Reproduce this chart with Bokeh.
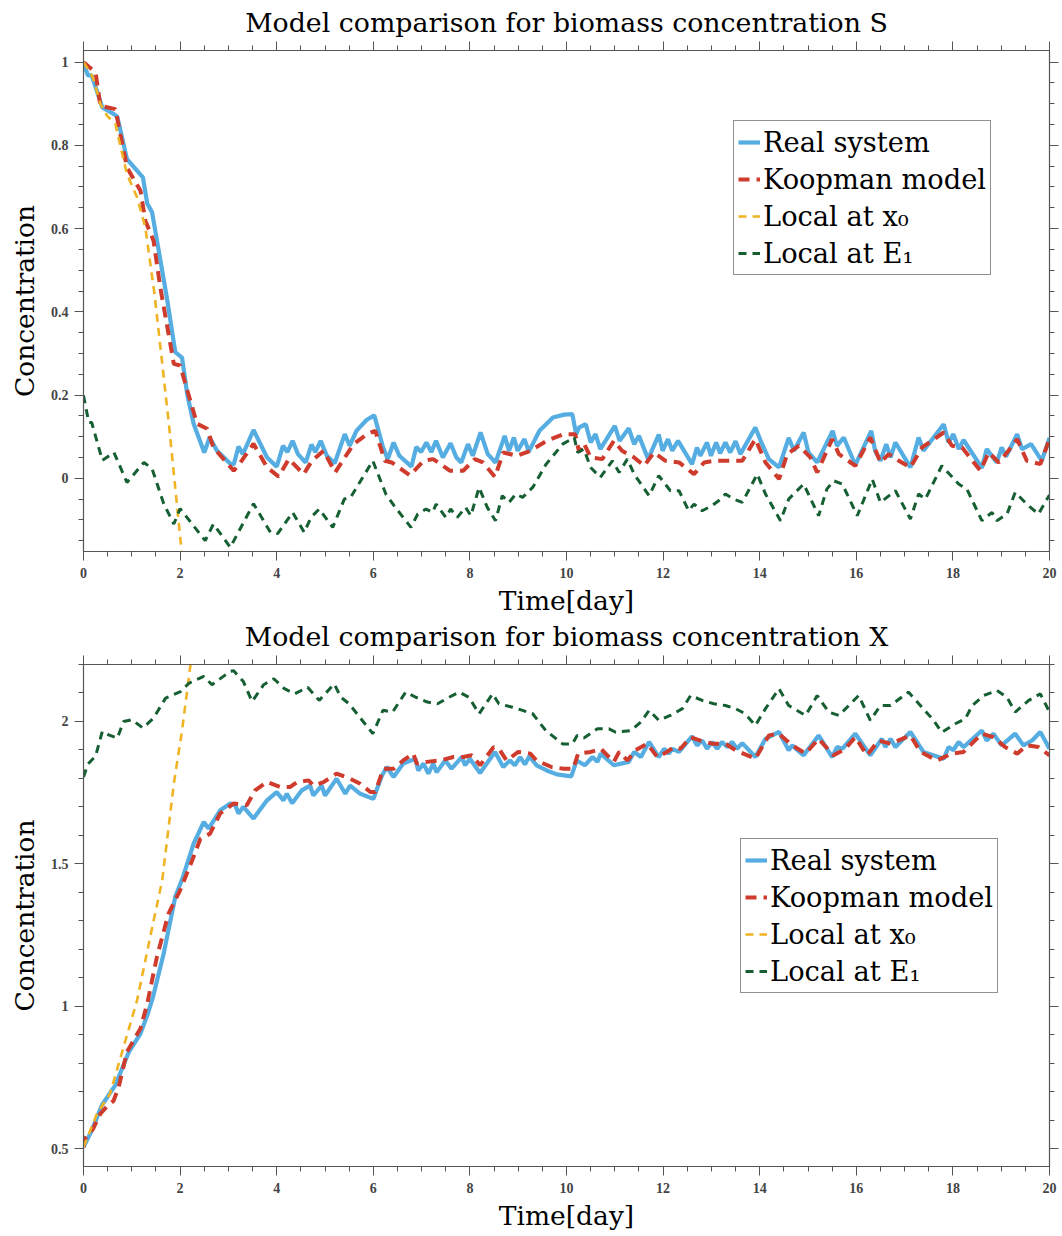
from bokeh.plotting import figure
from bokeh.models import (Range1d, LinearAxis, Legend, LegendItem, SingleIntervalTicker,
                          CustomLabelingPolicy)
from bokeh.layouts import column
from bokeh.embed import file_html
from bokeh.resources import INLINE

# ---------------- data: substrate S ----------------
s_real_t = [0, 0.09, 0.17, 0.39, 0.63, 0.70, 0.90, 1.23, 1.32, 1.42, 1.73, 1.90, 2.04, 2.15, 2.28, 2.50, 2.61, 2.76, 3.04, 3.11, 3.21, 3.30, 3.52, 3.80, 4.00, 4.13, 4.22, 4.33, 4.44, 4.60, 4.72, 4.80, 4.91, 5.04, 5.20, 5.41, 5.51, 5.65, 5.86, 6.02, 6.20, 6.30, 6.42, 6.54, 6.79, 6.89, 6.99, 7.10, 7.20, 7.30, 7.44, 7.60, 7.72, 7.82, 7.96, 8.06, 8.22, 8.37, 8.53, 8.72, 8.81, 8.91, 8.99, 9.13, 9.22, 9.44, 9.72, 9.95, 10.12, 10.20, 10.26, 10.40, 10.50, 10.60, 10.70, 11.00, 11.10, 11.29, 11.40, 11.50, 11.69, 11.91, 11.99, 12.10, 12.19, 12.31, 12.60, 12.70, 12.77, 12.91, 12.99, 13.10, 13.18, 13.29, 13.39, 13.50, 13.60, 13.91, 14.02, 14.19, 14.40, 14.60, 14.71, 14.91, 15.01, 15.19, 15.51, 15.60, 15.74, 15.98, 16.31, 16.39, 16.50, 16.62, 16.71, 16.81, 17.12, 17.29, 17.39, 17.81, 17.91, 18.01, 18.12, 18.22, 18.60, 18.70, 18.91, 19.01, 19.10, 19.33, 19.43, 19.62, 19.84, 20.0]
s_real_y = [1.0, 0.968, 0.968, 0.891, 0.875, 0.869, 0.767, 0.723, 0.660, 0.639, 0.431, 0.303, 0.29, 0.20, 0.131, 0.062, 0.098, 0.067, 0.035, 0.033, 0.076, 0.058, 0.116, 0.05, 0.028, 0.078, 0.063, 0.090, 0.058, 0.038, 0.081, 0.063, 0.090, 0.054, 0.036, 0.106, 0.078, 0.114, 0.140, 0.151, 0.075, 0.046, 0.086, 0.054, 0.028, 0.075, 0.063, 0.086, 0.063, 0.090, 0.050, 0.084, 0.050, 0.038, 0.082, 0.054, 0.110, 0.058, 0.038, 0.102, 0.066, 0.098, 0.066, 0.094, 0.064, 0.114, 0.146, 0.153, 0.154, 0.106, 0.122, 0.130, 0.086, 0.106, 0.070, 0.126, 0.090, 0.120, 0.082, 0.102, 0.046, 0.105, 0.066, 0.094, 0.066, 0.090, 0.034, 0.074, 0.054, 0.086, 0.054, 0.086, 0.060, 0.086, 0.062, 0.089, 0.058, 0.122, 0.090, 0.046, 0.026, 0.097, 0.066, 0.110, 0.062, 0.038, 0.114, 0.078, 0.098, 0.032, 0.114, 0.066, 0.042, 0.082, 0.050, 0.086, 0.026, 0.098, 0.066, 0.130, 0.086, 0.106, 0.070, 0.092, 0.025, 0.070, 0.038, 0.074, 0.052, 0.106, 0.070, 0.082, 0.042, 0.097]

s_koop_t = [0, 0.25, 0.35, 0.66, 0.90, 1.18, 1.28, 1.45, 1.59, 1.87, 2.0, 2.35, 2.56, 2.69, 3.11, 3.25, 3.52, 3.80, 4.04, 4.25, 4.56, 4.73, 4.97, 5.21, 5.59, 5.87, 6.04, 6.24, 6.38, 6.76, 7.04, 7.24, 7.59, 7.86, 8.10, 8.27, 8.52, 8.69, 8.97, 9.25, 9.59, 9.94, 10.18, 10.26, 10.36, 10.50, 10.74, 10.98, 11.15, 11.40, 11.61, 11.81, 12.05, 12.33, 12.64, 12.85, 13.05, 13.29, 13.64, 13.91, 14.12, 14.40, 14.57, 14.81, 15.05, 15.19, 15.50, 15.64, 15.98, 16.29, 16.50, 16.67, 16.88, 17.12, 17.36, 17.81, 17.98, 18.19, 18.57, 18.74, 18.95, 19.15, 19.33, 19.53, 19.81, 20.0]
s_koop_y = [1.0, 0.975, 0.895, 0.887, 0.747, 0.691, 0.619, 0.571, 0.459, 0.275, 0.271, 0.131, 0.119, 0.074, 0.018, 0.038, 0.083, 0.026, 0.004, 0.046, 0.010, 0.042, 0.066, 0.014, 0.082, 0.106, 0.114, 0.042, 0.038, 0.007, 0.042, 0.046, 0.018, 0.018, 0.046, 0.038, 0.003, 0.062, 0.054, 0.066, 0.090, 0.106, 0.106, 0.064, 0.084, 0.050, 0.046, 0.090, 0.066, 0.050, 0.030, 0.062, 0.042, 0.038, 0.010, 0.038, 0.042, 0.042, 0.042, 0.094, 0.038, -0.002, 0.058, 0.078, 0.050, 0.014, 0.094, 0.058, 0.030, 0.098, 0.038, 0.058, 0.042, 0.026, 0.074, 0.110, 0.078, 0.074, 0.018, 0.062, 0.038, 0.066, 0.094, 0.042, 0.034, 0.094]

s_x0_t = [0, 0.19, 0.35, 0.49, 0.66, 0.90, 1.11, 1.28, 1.47, 1.76, 2.03, 2.12]
s_x0_y = [1.0, 0.965, 0.90, 0.871, 0.851, 0.731, 0.675, 0.603, 0.443, 0.139, -0.174, -0.28]

s_e1_t = [0, 0.11, 0.17, 0.39, 0.63, 0.90, 1.25, 1.42, 1.66, 1.87, 2.0, 2.52, 2.69, 3.04, 3.52, 3.87, 4.02, 4.16, 4.33, 4.57, 4.71, 4.88, 5.16, 5.40, 5.53, 5.99, 6.26, 6.43, 6.78, 6.92, 7.09, 7.23, 7.30, 7.50, 7.60, 7.74, 7.91, 8.02, 8.19, 8.36, 8.53, 8.67, 8.81, 8.95, 9.09, 9.30, 9.58, 9.92, 10.16, 10.23, 10.36, 10.50, 10.70, 10.95, 11.09, 11.26, 11.40, 11.71, 11.91, 12.15, 12.33, 12.53, 12.64, 12.81, 13.01, 13.15, 13.29, 13.46, 13.64, 13.95, 14.12, 14.43, 14.60, 14.91, 15.22, 15.39, 15.53, 15.71, 16.02, 16.33, 16.50, 16.81, 17.12, 17.29, 17.43, 17.77, 18.12, 18.29, 18.60, 18.81, 18.91, 19.12, 19.29, 19.53, 19.77, 20.0]
s_e1_y = [0.199, 0.134, 0.134, 0.043, 0.062, -0.010, 0.038, 0.023, -0.061, -0.110, -0.073, -0.150, -0.110, -0.166, -0.061, -0.130, -0.133, -0.110, -0.082, -0.130, -0.094, -0.074, -0.118, -0.050, -0.046, 0.042, -0.038, -0.066, -0.118, -0.086, -0.074, -0.082, -0.062, -0.094, -0.074, -0.094, -0.070, -0.090, -0.022, -0.070, -0.102, -0.042, -0.058, -0.038, -0.046, -0.022, 0.034, 0.082, 0.098, 0.062, 0.070, 0.026, 0.002, 0.042, 0.014, 0.046, 0.010, -0.042, 0.006, -0.030, -0.030, -0.078, -0.062, -0.078, -0.066, -0.054, -0.038, -0.050, -0.058, 0.010, -0.038, -0.102, -0.050, -0.014, -0.090, -0.026, -0.006, -0.014, -0.090, -0.002, -0.058, -0.030, -0.098, -0.038, -0.050, 0.030, -0.014, -0.026, -0.102, -0.082, -0.102, -0.086, -0.034, -0.062, -0.086, -0.040]

# ---------------- data: biomass X ----------------
x_real_t = [0, 0.17, 0.38, 0.66, 0.94, 1.18, 1.32, 1.44, 1.66, 1.90, 2.06, 2.28, 2.49, 2.59, 2.83, 3.04, 3.14, 3.21, 3.31, 3.52, 3.80, 4.00, 4.14, 4.21, 4.32, 4.52, 4.69, 4.76, 4.93, 5.0, 5.24, 5.42, 5.52, 5.73, 6.0, 6.18, 6.28, 6.42, 6.62, 6.87, 6.93, 7.04, 7.14, 7.24, 7.31, 7.49, 7.62, 7.83, 7.90, 8.00, 8.21, 8.52, 8.69, 8.83, 8.93, 9.04, 9.14, 9.23, 9.38, 9.59, 9.80, 10.1, 10.21, 10.38, 10.54, 10.64, 10.71, 10.98, 11.29, 11.40, 11.54, 11.71, 11.91, 12.02, 12.12, 12.19, 12.33, 12.60, 12.70, 12.81, 12.91, 13.01, 13.12, 13.22, 13.33, 13.43, 13.53, 13.64, 13.91, 14.12, 14.40, 14.60, 14.67, 14.91, 15.22, 15.50, 15.60, 15.71, 15.98, 16.29, 16.53, 16.60, 16.71, 16.81, 17.12, 17.39, 17.81, 17.91, 18.01, 18.12, 18.22, 18.60, 18.70, 18.84, 19.01, 19.29, 19.46, 19.64, 19.81, 20.0]
x_real_y = [0.505, 0.563, 0.652, 0.723, 0.840, 0.904, 0.968, 1.033, 1.185, 1.384, 1.454, 1.571, 1.647, 1.624, 1.688, 1.712, 1.706, 1.677, 1.700, 1.659, 1.723, 1.752, 1.723, 1.746, 1.713, 1.758, 1.775, 1.740, 1.775, 1.740, 1.799, 1.746, 1.775, 1.746, 1.728, 1.810, 1.840, 1.805, 1.852, 1.869, 1.828, 1.852, 1.817, 1.852, 1.822, 1.863, 1.834, 1.875, 1.846, 1.869, 1.819, 1.893, 1.840, 1.863, 1.846, 1.875, 1.849, 1.878, 1.846, 1.828, 1.814, 1.807, 1.863, 1.846, 1.875, 1.858, 1.887, 1.846, 1.858, 1.893, 1.875, 1.928, 1.875, 1.904, 1.887, 1.904, 1.893, 1.948, 1.916, 1.933, 1.904, 1.928, 1.904, 1.928, 1.910, 1.928, 1.904, 1.924, 1.875, 1.939, 1.963, 1.899, 1.916, 1.881, 1.951, 1.875, 1.910, 1.904, 1.957, 1.881, 1.939, 1.910, 1.939, 1.910, 1.963, 1.893, 1.869, 1.910, 1.899, 1.928, 1.910, 1.968, 1.933, 1.957, 1.916, 1.957, 1.916, 1.933, 1.963, 1.904]

x_koop_t = [0, 0.03, 0.2, 0.35, 0.49, 0.62, 0.73, 0.9, 1.18, 1.32, 1.52, 1.76, 2.0, 2.25, 2.42, 2.62, 2.83, 3.11, 3.38, 3.56, 3.80, 4.07, 4.28, 4.42, 4.66, 4.76, 4.97, 5.24, 5.52, 5.73, 5.94, 6.04, 6.21, 6.42, 6.62, 6.83, 6.90, 7.11, 7.38, 7.66, 7.86, 8.04, 8.21, 8.49, 8.62, 8.76, 9.00, 9.25, 9.38, 9.69, 9.94, 10.14, 10.24, 10.50, 10.71, 10.98, 11.09, 11.26, 11.43, 11.67, 11.88, 12.08, 12.22, 12.36, 12.57, 12.77, 13.01, 13.29, 13.50, 13.91, 14.19, 14.40, 14.67, 14.95, 15.22, 15.53, 15.77, 15.98, 16.22, 16.46, 16.71, 17.12, 17.33, 17.67, 17.98, 18.22, 18.60, 18.84, 19.08, 19.33, 19.53, 19.77, 20.0]
x_koop_y = [0.505, 0.535, 0.570, 0.623, 0.648, 0.667, 0.717, 0.840, 0.922, 1.009, 1.173, 1.325, 1.407, 1.512, 1.588, 1.606, 1.677, 1.712, 1.706, 1.759, 1.788, 1.770, 1.770, 1.787, 1.793, 1.775, 1.787, 1.817, 1.799, 1.781, 1.752, 1.752, 1.834, 1.834, 1.863, 1.887, 1.852, 1.858, 1.863, 1.875, 1.875, 1.881, 1.846, 1.910, 1.899, 1.863, 1.893, 1.887, 1.863, 1.840, 1.834, 1.834, 1.887, 1.893, 1.904, 1.858, 1.893, 1.863, 1.899, 1.922, 1.875, 1.893, 1.910, 1.904, 1.945, 1.933, 1.922, 1.922, 1.899, 1.869, 1.951, 1.957, 1.916, 1.887, 1.939, 1.881, 1.904, 1.945, 1.881, 1.933, 1.922, 1.951, 1.893, 1.863, 1.887, 1.893, 1.957, 1.945, 1.910, 1.887, 1.916, 1.910, 1.881]

x_x0_t = [0, 0.28, 0.55, 0.83, 1.11, 1.38, 1.63, 1.87, 2.04, 2.20, 2.28]
x_x0_y = [0.505, 0.623, 0.693, 0.857, 1.021, 1.243, 1.442, 1.781, 1.968, 2.179, 2.29]

x_e1_t = [0, 0.09, 0.25, 0.39, 0.52, 0.70, 0.83, 1.0, 1.23, 1.45, 1.70, 2.01, 2.18, 2.49, 2.66, 3.04, 3.11, 3.31, 3.49, 3.73, 3.94, 4.16, 4.37, 4.64, 4.88, 5.19, 5.33, 5.50, 5.99, 6.20, 6.40, 6.67, 6.88, 7.12, 7.33, 7.57, 7.78, 7.98, 8.19, 8.47, 8.60, 8.88, 9.09, 9.30, 9.57, 9.92, 10.12, 10.22, 10.36, 10.64, 10.88, 11.02, 11.33, 11.54, 11.71, 11.91, 12.15, 12.40, 12.57, 12.81, 13.05, 13.29, 13.50, 13.70, 13.91, 14.12, 14.40, 14.60, 14.95, 15.19, 15.43, 15.64, 16.05, 16.29, 16.50, 16.71, 17.08, 17.36, 17.60, 17.77, 18.05, 18.26, 18.40, 18.64, 18.91, 19.12, 19.29, 19.57, 19.81, 20.0]
x_e1_y = [1.805, 1.85, 1.878, 1.965, 1.953, 1.941, 2.0, 2.006, 1.977, 2.012, 2.082, 2.105, 2.134, 2.158, 2.129, 2.176, 2.178, 2.140, 2.070, 2.129, 2.150, 2.115, 2.097, 2.120, 2.074, 2.132, 2.085, 2.062, 1.957, 2.039, 2.033, 2.103, 2.085, 2.068, 2.062, 2.085, 2.103, 2.085, 2.027, 2.097, 2.062, 2.050, 2.039, 2.027, 1.968, 1.921, 1.921, 1.951, 1.942, 1.974, 1.974, 1.962, 1.968, 1.998, 2.039, 2.004, 2.021, 2.045, 2.091, 2.074, 2.062, 2.056, 2.045, 2.027, 1.986, 2.045, 2.115, 2.056, 2.021, 2.091, 2.033, 2.021, 2.091, 2.004, 2.056, 2.056, 2.103, 2.050, 2.004, 1.962, 1.992, 2.010, 2.056, 2.091, 2.109, 2.085, 2.033, 2.074, 2.097, 2.033]

# axis ranges / tick labels
x_lim = (0, 20)
s_lim = (-0.176, 1.028)
x_conc_lim = (0.437, 2.2)
s_tick_labels = {0: "0", 1: "1"}
x_tick_labels = {1: "1", 2: "2"}
legend_labels = ["Real system", "Koopman model", "Local at x\u2080", "Local at E\u2081"]

C_REAL = "#55ade2"
C_KOOP = "#cf3b2c"
C_X0 = "#f0b323"
C_E1 = "#155f33"
AX = "#555555"
TICKFONT = "Liberation Serif"
TEXTFONT = "DejaVu Serif"

NO_LABELS = "for (let i = 0; i < indices.size; i++) { indices.unset(i) }\nreturn indices"


def style_axis(ax, show_labels=True, standoff=6):
    ax.axis_line_color = AX
    ax.axis_line_width = 1.2
    ax.major_tick_line_color = AX
    ax.minor_tick_line_color = AX
    ax.major_tick_out = 9
    ax.major_tick_in = 0
    ax.minor_tick_out = 5
    ax.minor_tick_in = 0
    ax.major_label_text_font = TICKFONT
    ax.major_label_text_font_style = "bold"
    ax.major_label_text_color = "#444444"
    if show_labels:
        ax.major_label_text_font_size = "14px"
        ax.major_label_standoff = standoff
    else:
        ax.major_label_text_font_size = "1px"
        ax.major_label_standoff = 0
        ax.major_label_policy = CustomLabelingPolicy(code=NO_LABELS)


def make_fig(title, ylim, yint, ynminor, overrides, data, leg_loc, top_border, bottom_border):
    p = figure(width=1062, height=618, output_backend="svg", toolbar_location=None,
               x_range=Range1d(*x_lim), y_range=Range1d(*ylim),
               min_border_left=83, min_border_right=12,
               min_border_top=top_border, min_border_bottom=bottom_border)
    p.grid.visible = False
    p.outline_line_color = AX
    p.background_fill_color = "white"
    p.title.text = title
    p.title.align = "center"
    p.title.text_font = TEXTFONT
    p.title.text_font_style = "normal"
    p.title.text_font_size = "26.8px"
    p.title.text_color = "black"
    p.title.standoff = 0

    p.xaxis.ticker = SingleIntervalTicker(interval=2, num_minor_ticks=4)
    p.yaxis.ticker = SingleIntervalTicker(interval=yint, num_minor_ticks=ynminor)
    for ax in p.xaxis:
        style_axis(ax, standoff=7)
        ax.axis_label = "Time[day]"
        ax.axis_label_standoff = 4
    for ax in p.yaxis:
        style_axis(ax, standoff=6)
        ax.axis_label = "Concentration"
        ax.major_label_overrides = overrides
        ax.axis_label_standoff = 8
    for ax in list(p.xaxis) + list(p.yaxis):
        ax.axis_label_text_font = TEXTFONT
        ax.axis_label_text_font_style = "normal"
        ax.axis_label_text_font_size = "26.5px"
        ax.axis_label_text_color = "black"

    top_ax = LinearAxis(ticker=SingleIntervalTicker(interval=2, num_minor_ticks=4))
    style_axis(top_ax, show_labels=False)
    p.add_layout(top_ax, "above")
    right_ax = LinearAxis(ticker=SingleIntervalTicker(interval=yint, num_minor_ticks=ynminor))
    style_axis(right_ax, show_labels=False)
    p.add_layout(right_ax, "right")

    (rt, ry), (kt, ky), (x0t, x0y), (et, ey) = data
    r1 = p.line(rt, ry, line_color=C_REAL, line_width=4.2)
    r2 = p.line(kt, ky, line_color=C_KOOP, line_width=4, line_dash="11 7")
    r3 = p.line(x0t, x0y, line_color=C_X0, line_width=2.6, line_dash="8 6")
    r4 = p.line(et, ey, line_color=C_E1, line_width=3, line_dash="8 6")

    legend = Legend(items=[LegendItem(label=legend_labels[0], renderers=[r1]),
                           LegendItem(label=legend_labels[1], renderers=[r2]),
                           LegendItem(label=legend_labels[2], renderers=[r3]),
                           LegendItem(label=legend_labels[3], renderers=[r4])],
                    location=leg_loc, orientation="vertical",
                    label_text_font=TEXTFONT, label_text_font_size="27.3px",
                    label_text_color="black",
                    glyph_width=22, glyph_height=34, label_height=34,
                    label_standoff=3, spacing=3, padding=4, margin=0,
                    border_line_color="#222222", border_line_width=1,
                    background_fill_color="white", background_fill_alpha=1)
    p.add_layout(legend)
    return p


p1 = make_fig("Model comparison for biomass concentration S", s_lim, 0.2, 4, s_tick_labels,
              [(s_real_t, s_real_y), (s_koop_t, s_koop_y), (s_x0_t, s_x0_y), (s_e1_t, s_e1_y)],
              (650, 276), 50, 67)
p2 = make_fig("Model comparison for biomass concentration X", x_conc_lim, 0.5, 5, x_tick_labels,
              [(x_real_t, x_real_y), (x_koop_t, x_koop_y), (x_x0_t, x_x0_y), (x_e1_t, x_e1_y)],
              (657, 173), 46, 70)

layout = column(p1, p2, spacing=0)
open("out.html", "w").write(file_html(layout, INLINE))
